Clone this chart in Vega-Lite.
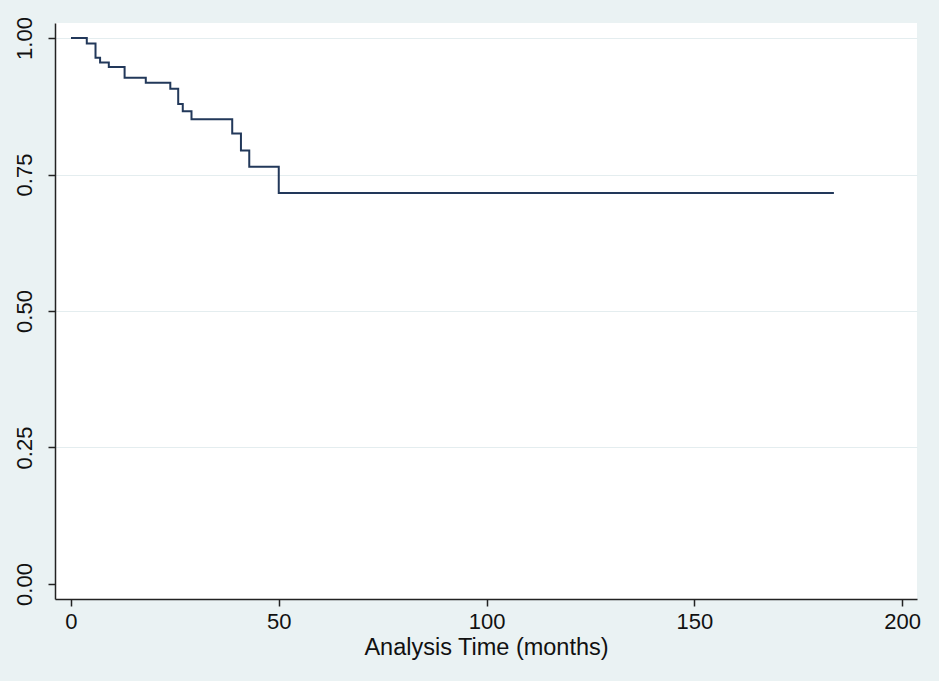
{
  "$schema": "https://vega.github.io/schema/vega-lite/v6.json",
  "width": 862,
  "height": 576,
  "autosize": "none",
  "padding": {"left": 55, "top": 23, "right": 22, "bottom": 82},
  "background": "#eaf2f3",
  "config": {
    "view": {"fill": "white", "stroke": null},
    "font": "Liberation Sans"
  },
  "data": {
    "values": [
      {"t": 0, "s": 1.0},
      {"t": 3.8, "s": 0.99},
      {"t": 5.9, "s": 0.964},
      {"t": 7.0, "s": 0.955},
      {"t": 9.1, "s": 0.947},
      {"t": 12.9, "s": 0.927},
      {"t": 18.0, "s": 0.918},
      {"t": 23.9, "s": 0.907},
      {"t": 25.8, "s": 0.879},
      {"t": 26.9, "s": 0.866},
      {"t": 29.0, "s": 0.851},
      {"t": 38.8, "s": 0.825},
      {"t": 40.9, "s": 0.794},
      {"t": 42.9, "s": 0.764},
      {"t": 50.0, "s": 0.716},
      {"t": 183.6, "s": 0.716}
    ]
  },
  "mark": {"type": "line", "interpolate": "step-after", "color": "#22385a", "strokeWidth": 2},
  "encoding": {
    "x": {
      "field": "t",
      "type": "quantitative",
      "scale": {"domain": [-3.85, 203.6], "nice": false, "zero": false},
      "axis": {
        "values": [0, 50, 100, 150, 200],
        "title": "Analysis Time (months)",
        "grid": false,
        "domainColor": "#222222",
        "domainWidth": 1.5,
        "tickColor": "#222222",
        "tickWidth": 1.5,
        "tickSize": 7,
        "labelFontSize": 22,
        "labelColor": "#111111",
        "labelPadding": 5,
        "labelFlush": false,
        "titleFontSize": 23.5,
        "titleFontWeight": "normal",
        "titleColor": "#111111",
        "titlePadding": 3
      }
    },
    "y": {
      "field": "s",
      "type": "quantitative",
      "scale": {"domain": [-0.0275, 1.0275], "nice": false, "zero": false},
      "axis": {
        "values": [0, 0.25, 0.5, 0.75, 1],
        "format": ".2f",
        "title": null,
        "grid": true,
        "gridColor": "#e4edef",
        "gridWidth": 1.2,
        "gridOpacity": {"condition": {"test": "datum.value === 0", "value": 0}, "value": 1},
        "domainColor": "#222222",
        "domainWidth": 1.5,
        "tickColor": "#222222",
        "tickWidth": 1.5,
        "tickSize": 7,
        "labelAngle": -90,
        "labelAlign": "center",
        "labelBaseline": "bottom",
        "labelFontSize": 22,
        "labelColor": "#111111",
        "labelPadding": 12,
        "labelFlush": false
      }
    }
  }
}
